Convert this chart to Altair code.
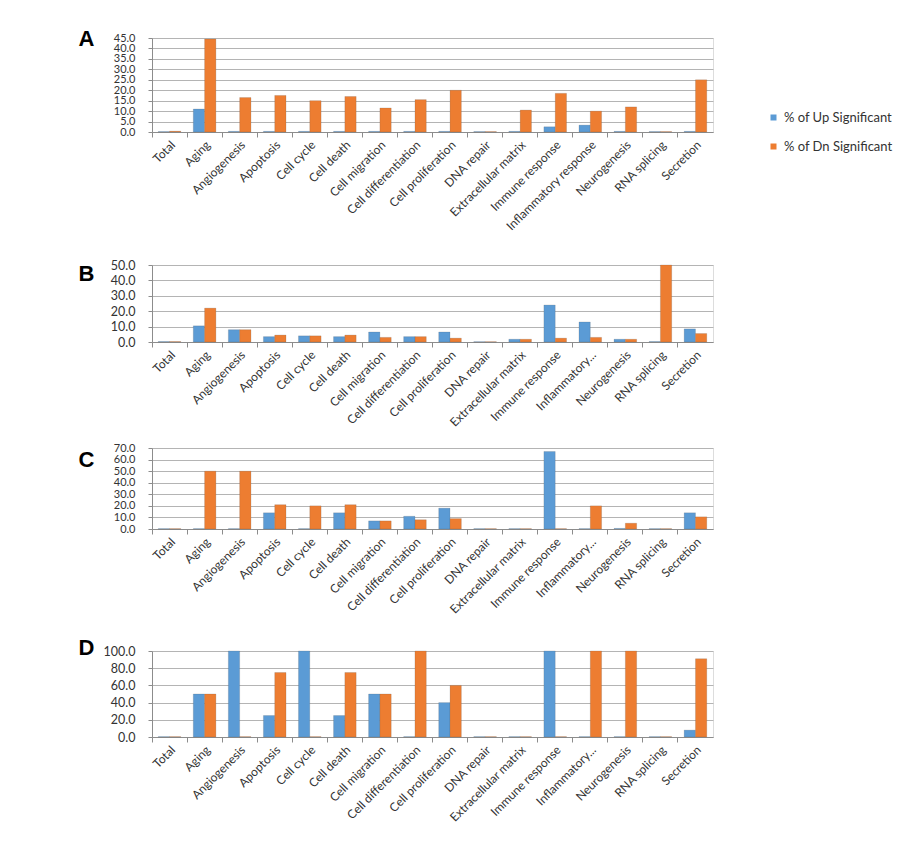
import altair as alt
import pandas as pd

categories = ["Total", "Aging", "Angiogenesis", "Apoptosis", "Cell cycle", "Cell death",
              "Cell migration", "Cell differentiation", "Cell proliferation", "DNA repair",
              "Extracellular matrix", "Immune response", "Inflammatory response",
              "Neurogenesis", "RNA splicing", "Secretion"]
series = ["% of Up Significant", "% of Dn Significant"]
colors = ["#5B9BD5", "#ED7D31"]

a_up = [0.2, 11.0, 0.3, 0.3, 0.3, 0.3, 0.3, 0.3, 0.3, 0.2, 0.3, 2.5, 3.3, 0.3, 0.2, 0.3]
a_dn = [0.4, 44.5, 16.5, 17.5, 15.0, 17.0, 11.5, 15.5, 20.0, 0.2, 10.5, 18.5, 10.0, 12.0, 0.2, 25.0]

b_up = [0.3, 10.5, 8.0, 3.5, 4.0, 3.5, 6.5, 3.5, 6.5, 0.2, 1.8, 24.0, 13.0, 1.8, 0.3, 8.5]
b_dn = [0.3, 22.0, 8.0, 4.5, 4.0, 4.5, 3.0, 3.5, 2.5, 0.2, 1.8, 2.5, 3.0, 1.8, 50.0, 5.5]

c_up = [0.3, 0.3, 0.3, 14.0, 0.3, 14.0, 7.0, 11.0, 18.0, 0.3, 0.3, 67.0, 0.3, 0.5, 0.3, 14.0]
c_dn = [0.3, 50.0, 50.0, 21.0, 20.0, 21.0, 7.0, 8.0, 9.0, 0.3, 0.3, 0.3, 20.0, 5.0, 0.3, 10.5]

d_up = [0.4, 50.0, 100.0, 25.0, 100.0, 25.0, 50.0, 0.4, 40.0, 0.4, 0.4, 100.0, 0.4, 0.4, 0.4, 8.0]
d_dn = [0.4, 50.0, 0.4, 75.0, 0.4, 75.0, 50.0, 100.0, 60.0, 0.4, 0.4, 0.4, 100.0, 100.0, 0.4, 91.0]

FONT = "Lato"
GRID = "#B4B4B4"
AXIS = "#8C8C8C"


def panel(letter, up, dn, ymax, step, height, truncate, letter_y, gap, ysize):
    df = pd.DataFrame({
        "category": categories * 2,
        "series": [series[0]] * len(categories) + [series[1]] * len(categories),
        "value": up + dn,
    })
    label_expr = ("datum.label == 'Inflammatory response' ? 'Inflammatory...' : datum.label"
                  if truncate else "datum.label")
    x_axis = dict(labelAngle=-45, labelAlign="right", labelBaseline="top",
                  labelExpr=label_expr, labelFont=FONT, labelFontSize=12,
                  labelColor="#333333", bandPosition=0, ticks=True, tickSize=5,
                  tickColor=AXIS, domainColor=AXIS, labelPadding=2)
    if gap is not None:
        x_axis.update(title=" ", titleFontSize=1, titlePadding=gap)
    else:
        x_axis.update(title=None)
    return alt.Chart(df).mark_bar(strokeWidth=0.6, stroke="#555555", strokeOpacity=0.3).encode(
        x=alt.X("category:N", sort=categories,
                scale=alt.Scale(paddingInner=0, paddingOuter=0),
                axis=alt.Axis(**x_axis)),
        xOffset=alt.XOffset("series:N", sort=series,
                            scale=alt.Scale(paddingInner=0, paddingOuter=0.55)),
        y=alt.Y("value:Q", scale=alt.Scale(domain=[0, ymax], nice=False),
                axis=alt.Axis(values=list(range(0, ymax + 1, step)), format=".1f",
                              labelOverlap=False,
                              title=letter, titleAngle=0, titleFont="Liberation Sans",
                              titleFontSize=22, titleFontWeight="bold", titleAlign="right",
                              titleBaseline="top", titleX=-58, titleY=letter_y,
                              titleColor="#000000",
                              labelFont=FONT, labelFontSize=ysize, labelColor="#333333",
                              ticks=True, tickSize=4, tickColor=AXIS, labelPadding=13,
                              domainColor=AXIS, gridColor=GRID)),
        color=alt.Color("series:N", sort=series,
                        scale=alt.Scale(domain=series, range=colors),
                        legend=alt.Legend(title=None, orient="none", legendX=615, legendY=73,
                                          labelFont=FONT, labelFontSize=13, labelColor="#333333",
                                          symbolType="square", symbolSize=36, rowPadding=15,
                                          labelOffset=4, symbolStrokeWidth=0)),
    ).properties(width=561, height=height)


chart = alt.vconcat(
    panel("A", a_up, a_dn, 45, 5, 94, False, -10, 24, 11),
    panel("B", b_up, b_dn, 50, 10, 77, True, -2, 11, 12.5),
    panel("C", c_up, c_dn, 70, 10, 81, True, 1, 18, 11),
    panel("D", d_up, d_dn, 100, 20, 86, True, -14, None, 12.5),
    spacing=0,
).properties(
    padding={"left": 69, "top": 18, "right": 5, "bottom": 5}
).configure_view(stroke=None).configure(background="white")

chart.save("out.html", embed_options={"renderer": "svg", "actions": False})
